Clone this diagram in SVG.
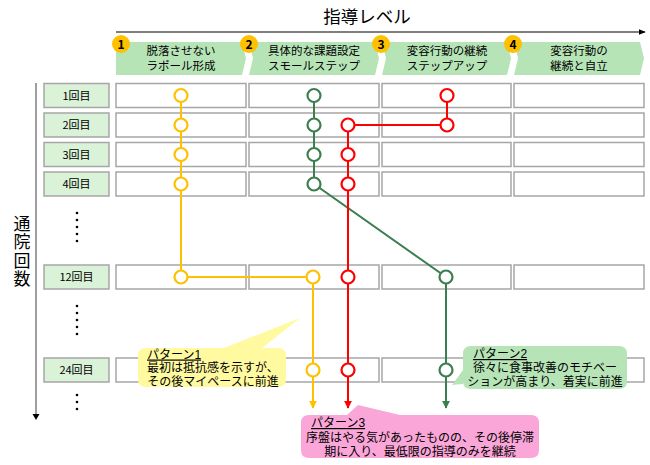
<svg xmlns="http://www.w3.org/2000/svg" width="650" height="465" viewBox="0 0 650 465">
<defs>
<style>
text{font-family:"Noto Sans CJK JP","Noto Sans",sans-serif;fill:#000}
.chev{fill:#B6E4B6}
.badge{fill:#FFC000}
.bt{font-size:12px;font-weight:bold;text-anchor:middle}
.ct{font-size:11.5px;text-anchor:middle}
.cell{fill:#fff;stroke:#A6A6A6;stroke-width:1.5}
.lab{fill:#DAF2D8;stroke:#A6A6A6;stroke-width:1.5}
.lt{font-size:11px;text-anchor:middle}
.y{stroke:#FFC000;stroke-width:2;fill:none}
.g{stroke:#3B7F4F;stroke-width:2;fill:none}
.r{stroke:#FF0000;stroke-width:2;fill:none}
.yc{stroke:#FFC000;stroke-width:2.2;fill:#fff}
.gc{stroke:#3B7F4F;stroke-width:2.2;fill:#fff}
.rc{stroke:#FF0000;stroke-width:2.2;fill:#fff}
.dot{fill:#000}
text.pt{font-size:12px;font-family:"Liberation Sans","Noto Sans CJK JP",sans-serif}
.ul{text-decoration:underline}
</style>
<marker id="ab" viewBox="0 0 10 10" refX="9" refY="5" markerWidth="6" markerHeight="6" orient="auto"><path d="M0,1 L10,5 L0,9 Z" fill="#000"/></marker>
<marker id="ay" viewBox="0 0 10 10" refX="9" refY="5" markerWidth="4" markerHeight="4" orient="auto"><path d="M0,0 L10,5 L0,10 Z" fill="#FFC000"/></marker>
<marker id="ar" viewBox="0 0 10 10" refX="9" refY="5" markerWidth="4" markerHeight="4" orient="auto"><path d="M0,0 L10,5 L0,10 Z" fill="#FF0000"/></marker>
<marker id="ag" viewBox="0 0 10 10" refX="9" refY="5" markerWidth="4" markerHeight="4" orient="auto"><path d="M0,0 L10,5 L0,10 Z" fill="#3B7F4F"/></marker>
</defs>

<g id="title">
<text x="367" y="23" font-size="17.5" text-anchor="middle">指導レベル</text>
<line x1="116" y1="32" x2="645" y2="32" stroke="#000" stroke-width="1.2" marker-end="url(#ab)"/>
</g>

<g id="level1">
<polygon class="chev" points="116,42 242,42 246,58.5 242,75 116,75"/>
<text class="ct"><tspan x="181" y="55">脱落させない</tspan><tspan x="181" y="70">ラポール形成</tspan></text>
<circle class="badge" cx="121" cy="44" r="9"/><text class="bt" x="121" y="48.5">1</text>
</g>
<g id="level2">
<polygon class="chev" points="249,42 375,42 379,58.5 375,75 249,75 253,58.5"/>
<text class="ct"><tspan x="314" y="55">具体的な課題設定</tspan><tspan x="314" y="70">スモールステップ</tspan></text>
<circle class="badge" cx="249" cy="44" r="9"/><text class="bt" x="249" y="48.5">2</text>
</g>
<g id="level3">
<polygon class="chev" points="382,42 507,42 511,58.5 507,75 382,75 386,58.5"/>
<text class="ct"><tspan x="447" y="55">変容行動の継続</tspan><tspan x="447" y="70">ステップアップ</tspan></text>
<circle class="badge" cx="381" cy="44" r="9"/><text class="bt" x="381" y="48.5">3</text>
</g>
<g id="level4">
<polygon class="chev" points="514,42 640,42 644,58.5 640,75 514,75 518,58.5"/>
<text class="ct"><tspan x="579" y="55">変容行動の</tspan><tspan x="579" y="70">継続と自立</tspan></text>
<circle class="badge" cx="513" cy="44" r="9"/><text class="bt" x="513" y="48.5">4</text>
</g>

<g id="axis">
<line x1="36" y1="83" x2="36" y2="418" stroke="#7F7F7F" stroke-width="1.5"/>
<path d="M32.5,414 L39.5,414 L36,420 Z" fill="#000"/>
<text x="22" y="252" font-size="17" text-anchor="middle" writing-mode="vertical-rl" letter-spacing="1.5">通院回数</text>
</g>

<g id="rows">
<g id="row1">
<rect class="lab" x="44" y="83.5" width="65" height="24"/><text class="lt" x="76.5" y="99.5">1回目</text>
<rect class="cell" x="116" y="83.5" width="130" height="24"/><rect class="cell" x="249" y="83.5" width="130" height="24"/><rect class="cell" x="382" y="83.5" width="129" height="24"/><rect class="cell" x="514" y="83.5" width="130" height="24"/>
</g>
<g id="row2">
<rect class="lab" x="44" y="113" width="65" height="24"/><text class="lt" x="76.5" y="129">2回目</text>
<rect class="cell" x="116" y="113" width="130" height="24"/><rect class="cell" x="249" y="113" width="130" height="24"/><rect class="cell" x="382" y="113" width="129" height="24"/><rect class="cell" x="514" y="113" width="130" height="24"/>
</g>
<g id="row3">
<rect class="lab" x="44" y="142.5" width="65" height="24"/><text class="lt" x="76.5" y="158.5">3回目</text>
<rect class="cell" x="116" y="142.5" width="130" height="24"/><rect class="cell" x="249" y="142.5" width="130" height="24"/><rect class="cell" x="382" y="142.5" width="129" height="24"/><rect class="cell" x="514" y="142.5" width="130" height="24"/>
</g>
<g id="row4">
<rect class="lab" x="44" y="172" width="65" height="24"/><text class="lt" x="76.5" y="188">4回目</text>
<rect class="cell" x="116" y="172" width="130" height="24"/><rect class="cell" x="249" y="172" width="130" height="24"/><rect class="cell" x="382" y="172" width="129" height="24"/><rect class="cell" x="514" y="172" width="130" height="24"/>
</g>
<g id="row12">
<rect class="lab" x="44" y="265" width="65" height="24"/><text class="lt" x="76.5" y="281">12回目</text>
<rect class="cell" x="116" y="265" width="130" height="24"/><rect class="cell" x="249" y="265" width="130" height="24"/><rect class="cell" x="382" y="265" width="129" height="24"/><rect class="cell" x="514" y="265" width="130" height="24"/>
</g>
<g id="row24">
<rect class="lab" x="44" y="358" width="65" height="24"/><text class="lt" x="76.5" y="374">24回目</text>
<rect class="cell" x="116" y="358" width="130" height="24"/><rect class="cell" x="249" y="358" width="130" height="24"/><rect class="cell" x="382" y="358" width="129" height="24"/><rect class="cell" x="514" y="358" width="130" height="24"/>
</g>
</g>

<g id="ellipsis">
<circle class="dot" cx="77" cy="213" r="1.3"/><circle class="dot" cx="77" cy="220" r="1.3"/><circle class="dot" cx="77" cy="227" r="1.3"/><circle class="dot" cx="77" cy="234" r="1.3"/><circle class="dot" cx="77" cy="241" r="1.3"/>
<circle class="dot" cx="77" cy="306" r="1.3"/><circle class="dot" cx="77" cy="313" r="1.3"/><circle class="dot" cx="77" cy="320" r="1.3"/><circle class="dot" cx="77" cy="327" r="1.3"/><circle class="dot" cx="77" cy="334" r="1.3"/>
<circle class="dot" cx="77" cy="395" r="1.3"/><circle class="dot" cx="77" cy="402" r="1.3"/><circle class="dot" cx="77" cy="409" r="1.3"/>
</g>

<g id="connectors">
<polyline class="y" points="181,95 181,277 313,277 313,408" marker-end="url(#ay)"/>
<polyline class="g" points="314,95 314,184 446,277 446,408" marker-end="url(#ag)"/>
<polyline class="r" points="447,95 447,125 348,125 348,408" marker-end="url(#ar)"/>
</g>

<g id="markers">
<circle class="yc" cx="181" cy="95.5" r="6.5"/><circle class="yc" cx="181" cy="125" r="6.5"/><circle class="yc" cx="181" cy="154.5" r="6.5"/><circle class="yc" cx="181" cy="184" r="6.5"/><circle class="yc" cx="181" cy="277" r="6.5"/><circle class="yc" cx="313" cy="277" r="6.5"/><circle class="yc" cx="313" cy="370" r="6.5"/>
<circle class="gc" cx="314" cy="95.5" r="6.5"/><circle class="gc" cx="314" cy="125" r="6.5"/><circle class="gc" cx="314" cy="154.5" r="6.5"/><circle class="gc" cx="314" cy="184" r="6.5"/><circle class="gc" cx="446" cy="277" r="6.5"/><circle class="gc" cx="446" cy="370" r="6.5"/>
<circle class="rc" cx="447" cy="95.5" r="6.5"/><circle class="rc" cx="447" cy="125" r="6.5"/><circle class="rc" cx="348" cy="125" r="6.5"/><circle class="rc" cx="348" cy="154.5" r="6.5"/><circle class="rc" cx="348" cy="184" r="6.5"/><circle class="rc" cx="348" cy="277" r="6.5"/><circle class="rc" cx="348" cy="370" r="6.5"/>
</g>

<g id="callout1">
<path d="M146,348 L224,348 L300,318 L262,348 L278,348 Q286,348 286,356 L286,379 Q286,387 278,387 L146,387 Q138,387 138,379 L138,356 Q138,348 146,348 Z" fill="#FFF9A0"/>
<text class="pt"><tspan class="ul" x="147" y="358.5">パターン1</tspan><tspan x="213" y="372" text-anchor="middle">最初は抵抗感を示すが、</tspan><tspan x="213" y="385.5" text-anchor="middle">その後マイペースに前進</tspan></text>
</g>

<g id="callout2">
<path d="M471,346 L619,346 Q627,346 627,354 L627,381 Q627,389 619,389 L471,389 Q463,389 463,381 L463,384 L452,385 L463,370 L463,354 Q463,346 471,346 Z" fill="#B6E4B6"/>
<text class="pt"><tspan class="ul" x="473" y="358">パターン2</tspan><tspan x="545" y="372" text-anchor="middle">徐々に食事改善のモチベー</tspan><tspan x="545" y="386" text-anchor="middle">ションが高まり、着実に前進</tspan></text>
</g>

<g id="callout3">
<path d="M309,415 L347,415 L358,405 L400,415 L531,415 Q539,415 539,423 L539,450 Q539,458 531,458 L309,458 Q301,458 301,450 L301,423 Q301,415 309,415 Z" fill="#FBA6D8"/>
<text class="pt"><tspan class="ul" x="311" y="427">パターン3</tspan><tspan x="420" y="442" text-anchor="middle">序盤はやる気があったものの、その後停滞</tspan><tspan x="420" y="456" text-anchor="middle">期に入り、最低限の指導のみを継続</tspan></text>
</g>
</svg>
